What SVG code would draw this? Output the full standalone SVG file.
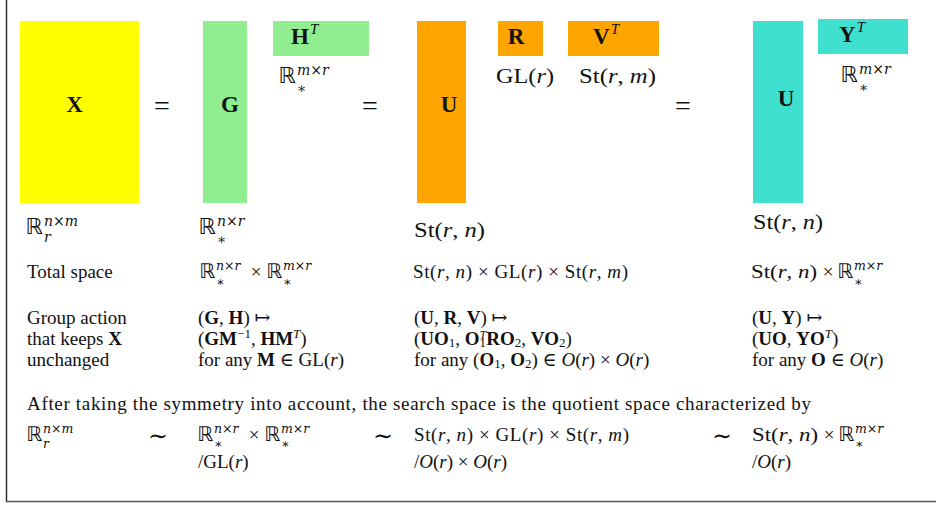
<svg xmlns="http://www.w3.org/2000/svg" width="936" height="508" viewBox="0 0 936 508">
<style>
text{font-family:"Liberation Serif","DejaVu Serif",serif;fill:#111}
.lab{font-size:19px}
.top{font-size:21px}
.big{font-size:23px;font-weight:bold}
.b{font-weight:bold}
.i{font-style:italic}
.sm{font-size:13px}
.sp{font-family:"DejaVu Serif",serif;font-size:14px}
.sq{font-family:"DejaVu Serif",serif;font-size:12.5px}
.bbL{font-family:"DejaVu Sans","DejaVu Serif",sans-serif;font-size:22px}
.bb{font-family:"DejaVu Sans","DejaVu Serif",sans-serif;font-size:20px}
.op{font-family:"DejaVu Serif",serif}
.eq{font-size:28px}
.frame{stroke:#222;stroke-width:1.4;fill:none}
</style>
<rect width="936" height="508" fill="#fff"/>
<g id="frame">
<line class="frame" x1="6.5" y1="0" x2="6.5" y2="502"/>
<line x1="6" y1="501.5" x2="936" y2="501.5" stroke="#555" stroke-width="1.6"/>
</g>

<g id="matrix-X">
<rect x="20" y="21" width="119" height="182" fill="#ffff00"/>
<text class="big" x="74.5" y="112" text-anchor="middle">X</text>
<text class="bbL" x="43" y="234" text-anchor="end">ℝ</text>
<text class="sp" x="44" y="226"><tspan class="i">n</tspan>×<tspan class="i">m</tspan></text>
<text class="sp i" x="44" y="242">r</text>
</g>
<text class="eq" x="162" y="115" text-anchor="middle">=</text>

<g id="matrix-G">
<rect x="203" y="21" width="44" height="182" fill="#90ee90"/>
<text class="big" x="230" y="112" text-anchor="middle">G</text>
<text class="bbL" x="216" y="234" text-anchor="end">ℝ</text>
<text class="sp" x="217" y="226"><tspan class="i">n</tspan>×<tspan class="i">r</tspan></text>
<text class="sp" x="217" y="244">∗</text>
</g>
<g id="matrix-HT">
<rect x="273" y="21" width="96" height="35" fill="#90ee90"/>
<text class="big" x="291" y="44">H<tspan class="i" font-size="15" font-weight="normal" dx="1" dy="-10">T</tspan></text>
<text class="bbL" x="296" y="83" text-anchor="end">ℝ</text>
<text class="sp" x="297" y="75"><tspan class="i">m</tspan>×<tspan class="i">r</tspan></text>
<text class="sp" x="297" y="93">∗</text>
</g>
<text class="eq" x="370" y="115" text-anchor="middle">=</text>

<g id="matrix-U1">
<rect x="417" y="21" width="49" height="182" fill="#ffa500"/>
<text class="big" x="449" y="112" text-anchor="middle">U</text>
<text class="top" x="414" y="237" font-size="22" textLength="71" lengthAdjust="spacingAndGlyphs">St(<tspan class="i">r</tspan>, <tspan class="i">n</tspan>)</text>
</g>
<g id="matrix-R">
<rect x="498" y="21" width="45" height="35" fill="#ffa500"/>
<text class="big" x="516" y="44" text-anchor="middle">R</text>
<text class="top" x="496" y="83" textLength="58" lengthAdjust="spacingAndGlyphs">GL(<tspan class="i">r</tspan>)</text>
</g>
<g id="matrix-VT">
<rect x="568" y="21" width="91" height="35" fill="#ffa500"/>
<text class="big" x="593" y="44">V<tspan class="i" font-size="15" font-weight="normal" dx="1" dy="-10">T</tspan></text>
<text class="top" x="579" y="83" textLength="77" lengthAdjust="spacingAndGlyphs">St(<tspan class="i">r</tspan>, <tspan class="i">m</tspan>)</text>
</g>
<text class="eq" x="683" y="115" text-anchor="middle">=</text>

<g id="matrix-U2">
<rect x="753" y="21" width="50" height="182" fill="#40e0d0"/>
<text class="big" x="786" y="106" text-anchor="middle">U</text>
<text class="top" x="753" y="229" font-size="22" textLength="70" lengthAdjust="spacingAndGlyphs">St(<tspan class="i">r</tspan>, <tspan class="i">n</tspan>)</text>
</g>
<g id="matrix-YT">
<rect x="818" y="19" width="90" height="35" fill="#40e0d0"/>
<text class="big" x="839" y="42">Y<tspan class="i" font-size="15" font-weight="normal" dx="1" dy="-10">T</tspan></text>
<text class="bbL" x="858" y="82" text-anchor="end">ℝ</text>
<text class="sp" x="859" y="74"><tspan class="i">m</tspan>×<tspan class="i">r</tspan></text>
<text class="sp" x="859" y="92">∗</text>
</g>

<g id="row-total-space">
<text class="lab" x="27" y="278">Total space</text>
<text class="bb" x="215" y="278" text-anchor="end">ℝ</text>
<text class="sq" x="216" y="270"><tspan class="i">n</tspan>×<tspan class="i">r</tspan></text>
<text class="sq" x="216" y="286">∗</text>
<text class="lab" x="256" y="278" text-anchor="middle">×</text>
<text class="bb" x="282" y="278" text-anchor="end">ℝ</text>
<text class="sq" x="283" y="270"><tspan class="i">m</tspan>×<tspan class="i">r</tspan></text>
<text class="sq" x="283" y="286">∗</text>
<text class="lab" x="413" y="278" textLength="215">St(<tspan class="i">r</tspan>, <tspan class="i">n</tspan>) × GL(<tspan class="i">r</tspan>) × St(<tspan class="i">r</tspan>, <tspan class="i">m</tspan>)</text>
<text class="lab" x="751" y="278" textLength="66" lengthAdjust="spacingAndGlyphs">St(<tspan class="i">r</tspan>, <tspan class="i">n</tspan>)</text>
<text class="lab" x="828" y="278" text-anchor="middle">×</text>
<text class="bb" x="853" y="278" text-anchor="end">ℝ</text>
<text class="sq" x="854" y="270"><tspan class="i">m</tspan>×<tspan class="i">r</tspan></text>
<text class="sq" x="854" y="286">∗</text>
</g>

<g id="row-group-action">
<text class="lab" x="27" y="324">Group action</text>
<text class="lab" x="27" y="345">that keeps <tspan class="b">X</tspan></text>
<text class="lab" x="27" y="366">unchanged</text>

<text class="lab" x="198" y="324">(<tspan class="b">G</tspan>, <tspan class="b">H</tspan>) <tspan class="op">↦</tspan></text>
<text class="lab" x="198" y="345">(<tspan class="b">GM</tspan><tspan class="sm" dy="-7">−1</tspan><tspan dy="7">, </tspan><tspan class="b">HM</tspan><tspan class="sm i" dy="-7">T</tspan><tspan dy="7">)</tspan></text>
<text class="lab" x="198" y="366">for any <tspan class="b">M</tspan> <tspan class="op">∈</tspan> GL(<tspan class="i">r</tspan>)</text>

<text class="lab" x="414" y="324">(<tspan class="b">U</tspan>, <tspan class="b">R</tspan>, <tspan class="b">V</tspan>) <tspan class="op">↦</tspan></text>
<text class="lab" x="414" y="345">(<tspan class="b">UO</tspan><tspan class="sm" dy="2">1</tspan><tspan dy="-2">, </tspan><tspan class="b">O</tspan><tspan class="sm" dy="2">1</tspan><tspan class="i" font-size="12" dx="-6.5" dy="-8.5">T</tspan><tspan class="b" dy="6.5">RO</tspan><tspan class="sm" dy="2">2</tspan><tspan dy="-2">, </tspan><tspan class="b">VO</tspan><tspan class="sm" dy="2">2</tspan><tspan dy="-2">)</tspan></text>
<text class="lab" x="414" y="366">for any (<tspan class="b">O</tspan><tspan class="sm" dy="2">1</tspan><tspan dy="-2">, </tspan><tspan class="b">O</tspan><tspan class="sm" dy="2">2</tspan><tspan dy="-2">) </tspan><tspan class="op">∈</tspan> <tspan class="i">O</tspan>(<tspan class="i">r</tspan>) × <tspan class="i">O</tspan>(<tspan class="i">r</tspan>)</text>

<text class="lab" x="752" y="324">(<tspan class="b">U</tspan>, <tspan class="b">Y</tspan>) <tspan class="op">↦</tspan></text>
<text class="lab" x="752" y="345">(<tspan class="b">UO</tspan>, <tspan class="b">YO</tspan><tspan class="sm i" dy="-7">T</tspan><tspan dy="7">)</tspan></text>
<text class="lab" x="752" y="366">for any <tspan class="b">O</tspan> <tspan class="op">∈</tspan> <tspan class="i">O</tspan>(<tspan class="i">r</tspan>)</text>
</g>

<g id="quotient">
<text class="lab" x="27" y="410" textLength="784">After taking the symmetry into account, the search space is the quotient space characterized by</text>
<text class="bb" x="42" y="441" text-anchor="end">ℝ</text>
<text class="sq" x="43" y="433"><tspan class="i">n</tspan>×<tspan class="i">m</tspan></text>
<text class="sq i" x="43" y="448">r</text>
<text class="op" x="158" y="444" font-size="24" text-anchor="middle">∼</text>

<text class="bb" x="213" y="441" text-anchor="end">ℝ</text>
<text class="sq" x="214" y="433"><tspan class="i">n</tspan>×<tspan class="i">r</tspan></text>
<text class="sq" x="214" y="448">∗</text>
<text class="lab" x="254" y="441" text-anchor="middle">×</text>
<text class="bb" x="280" y="441" text-anchor="end">ℝ</text>
<text class="sq" x="281" y="433"><tspan class="i">m</tspan>×<tspan class="i">r</tspan></text>
<text class="sq" x="281" y="448">∗</text>
<text class="lab" x="198" y="468">/GL(<tspan class="i">r</tspan>)</text>
<text class="op" x="383" y="444" font-size="24" text-anchor="middle">∼</text>

<text class="lab" x="414" y="441" textLength="215">St(<tspan class="i">r</tspan>, <tspan class="i">n</tspan>) × GL(<tspan class="i">r</tspan>) × St(<tspan class="i">r</tspan>, <tspan class="i">m</tspan>)</text>
<text class="lab" x="414" y="468">/<tspan class="i">O</tspan>(<tspan class="i">r</tspan>) × <tspan class="i">O</tspan>(<tspan class="i">r</tspan>)</text>
<text class="op" x="722" y="444" font-size="24" text-anchor="middle">∼</text>

<text class="lab" x="752" y="441" textLength="66" lengthAdjust="spacingAndGlyphs">St(<tspan class="i">r</tspan>, <tspan class="i">n</tspan>)</text>
<text class="lab" x="829" y="441" text-anchor="middle">×</text>
<text class="bb" x="854" y="441" text-anchor="end">ℝ</text>
<text class="sq" x="855" y="433"><tspan class="i">m</tspan>×<tspan class="i">r</tspan></text>
<text class="sq" x="855" y="448">∗</text>
<text class="lab" x="752" y="468">/<tspan class="i">O</tspan>(<tspan class="i">r</tspan>)</text>
</g>
</svg>
